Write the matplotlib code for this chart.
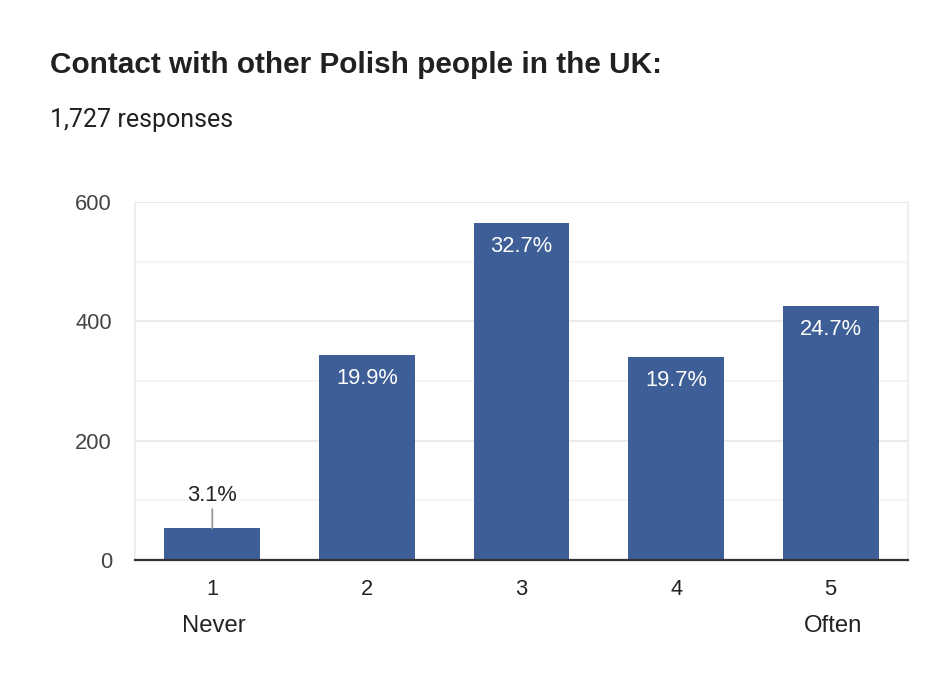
import matplotlib
matplotlib.use("Agg")
import matplotlib.pyplot as plt
from matplotlib.ticker import MultipleLocator

categories = ["1", "2", "3", "4", "5"]
sublabels = ["Never", "", "", "", "Often"]
counts = [53, 343, 565, 340, 426]
percent_labels = ["3.1%", "19.9%", "32.7%", "19.7%", "24.7%"]
title = "Contact with other Polish people in the UK:"
subtitle = "1,727 responses"

W, H = 950, 681
fig = plt.figure(figsize=(W / 100, H / 100), dpi=100)
fig.patch.set_facecolor("white")
ax = fig.add_axes([135 / W, 121 / H, 773 / W, 358 / H])

bar_color = "#3d5e96"
FONT = "Liberation Sans"
x = list(range(len(categories)))
ax.bar(x, counts, width=0.62, color=bar_color, zorder=3)
ax.set_xlim(-0.5, len(categories) - 0.5)
ax.set_ylim(0, 600)
ax.yaxis.set_major_locator(MultipleLocator(200))
ax.yaxis.set_minor_locator(MultipleLocator(100))
ax.grid(axis="y", which="major", color="#e8e8e8", linewidth=1.3, zorder=0)
ax.grid(axis="y", which="minor", color="#f3f3f3", linewidth=1.1, zorder=0)
ax.axhline(600, color="#e8e8e8", linewidth=1.5, zorder=0)
ax.spines["top"].set_visible(False)
for s in ["left", "right"]:
    ax.spines[s].set_color("#ebebeb")
    ax.spines[s].set_linewidth(1.2)
ax.spines["bottom"].set_color("#333333")
ax.spines["bottom"].set_linewidth(1.6)
ax.spines["bottom"].set_zorder(4)
ax.tick_params(axis="both", which="both", length=0)
ax.tick_params(axis="y", pad=16.5, labelsize=15.75, labelcolor="#444444")
ax.set_xticks(x)
ax.set_xticklabels(categories, fontsize=15.75, color="#222222")
ax.tick_params(axis="x", pad=13.5)
for lab in ax.get_xticklabels() + ax.get_yticklabels():
    lab.set_family(FONT)

for xi, s in zip(x, sublabels):
    if s:
        ax.annotate(s, xy=(xi, 0), xytext=(2, -72), textcoords="offset pixels",
                    ha="center", va="baseline", fontsize=17.2, color="#222222",
                    family=FONT, annotation_clip=False)

for xi, v, lab in zip(x, counts, percent_labels):
    if v < 150:
        ax.annotate(lab, xy=(xi, v), xytext=(0, 27), textcoords="offset pixels",
                    ha="center", va="baseline", fontsize=15.75, color="#222222",
                    family=FONT, zorder=5,
                    arrowprops=dict(arrowstyle="-", color="#999999", lw=1.3,
                                    shrinkA=0, shrinkB=0,
                                    relpos=(0.5, 0.0)))
    else:
        ax.annotate(lab, xy=(xi, v), xytext=(0, -28.7), textcoords="offset pixels",
                    ha="center", va="baseline", fontsize=15.75, color="white",
                    family=FONT, zorder=5)

fig.text(50 / W, 1 - 73 / H, title, ha="left", va="baseline", fontsize=21.4,
         fontweight="bold", color="#212121", family=FONT)
fig.text(50 / W, 1 - 126.7 / H, subtitle, ha="left", va="baseline", fontsize=18,
         color="#212121", family="Roboto")

fig.savefig("out.png", dpi=100, facecolor="white")
